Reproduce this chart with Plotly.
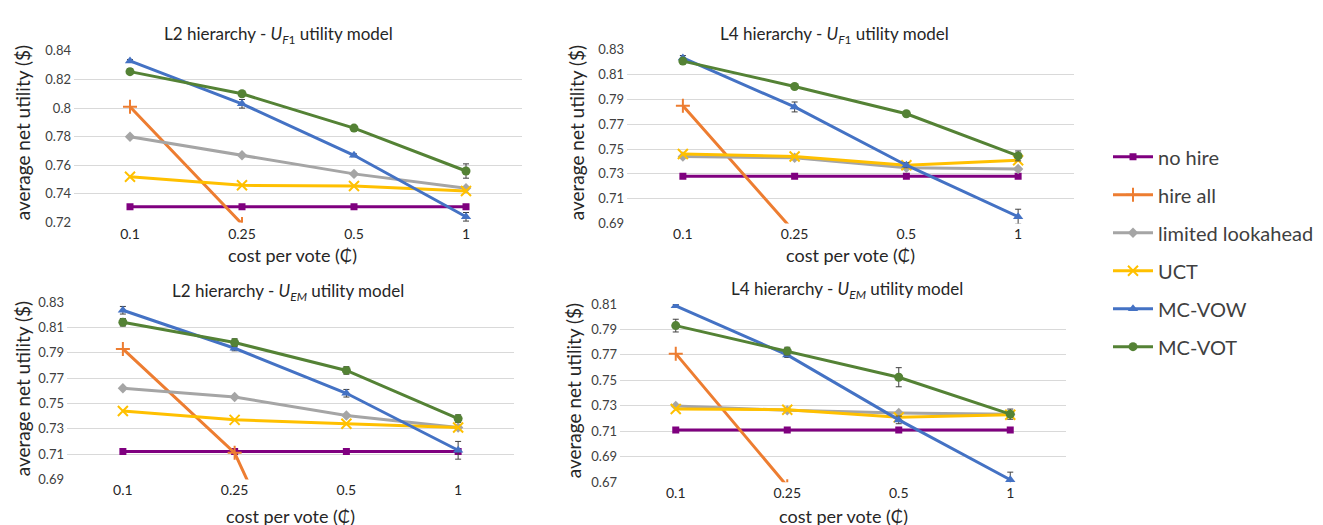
import plotly.graph_objects as go

W, H = 1323, 525

costs = ["0.1", "0.25", "0.5", "1"]
series_names = ["no hire", "hire all", "limited lookahead", "UCT", "MC-VOW", "MC-VOT"]

# L2 hierarchy - U_F1
l2_f1_no_hire = [0.731, 0.731, 0.731, 0.731]
l2_f1_hire_all = [0.801, 0.719, 0.60, 0.40]
l2_f1_limited = [0.780, 0.767, 0.754, 0.744]
l2_f1_uct = [0.752, 0.746, 0.7455, 0.742]
l2_f1_vow = [0.833, 0.803, 0.767, 0.724]
l2_f1_vow_err = [0.001, 0.003, 0.001, 0.003]
l2_f1_vot = [0.8255, 0.810, 0.786, 0.756]
l2_f1_vot_err = [0.002, 0.001, 0.001, 0.005]

# L4 hierarchy - U_F1
l4_f1_no_hire = [0.728, 0.728, 0.728, 0.728]
l4_f1_hire_all = [0.785, 0.683, 0.55, 0.35]
l4_f1_limited = [0.744, 0.743, 0.735, 0.734]
l4_f1_uct = [0.746, 0.744, 0.737, 0.741]
l4_f1_vow = [0.8235, 0.784, 0.737, 0.6955]
l4_f1_vow_err = [0.002, 0.004, 0.002, 0.006]
l4_f1_vot = [0.821, 0.8005, 0.7785, 0.7445]
l4_f1_vot_err = [0.001, 0.001, 0.001, 0.004]

# L2 hierarchy - U_EM
l2_em_no_hire = [0.712, 0.712, 0.712, 0.712]
l2_em_hire_all = [0.793, 0.711, 0.52, 0.30]
l2_em_limited = [0.762, 0.755, 0.7405, 0.731]
l2_em_uct = [0.744, 0.737, 0.734, 0.731]
l2_em_vow = [0.8235, 0.7935, 0.758, 0.713]
l2_em_vow_err = [0.003, 0.002, 0.003, 0.007]
l2_em_vot = [0.814, 0.798, 0.776, 0.738]
l2_em_vot_err = [0.003, 0.003, 0.003, 0.003]

# L4 hierarchy - U_EM
l4_em_no_hire = [0.711, 0.711, 0.711, 0.711]
l4_em_hire_all = [0.771, 0.667, 0.50, 0.30]
l4_em_limited = [0.730, 0.7265, 0.7245, 0.7235]
l4_em_uct = [0.7275, 0.727, 0.721, 0.723]
l4_em_vow = [0.8085, 0.770, 0.719, 0.672]
l4_em_vow_err = [0.001, 0.002, 0.003, 0.006]
l4_em_vot = [0.793, 0.773, 0.7525, 0.7235]
l4_em_vot_err = [0.005, 0.003, 0.0075, 0.004]

colors = ["#7F007F", "#ED7D31", "#A5A5A5", "#FFC000", "#4472C4", "#548235"]
symbols = ["square", "cross-thin", "diamond", "x-thin", "triangle-up", "circle"]
msizes = [7, 10, 8, 10, 9, 9]

panels = [
    dict(title="L2 hierarchy - <i>U</i><sub><i>F</i>1</sub> utility model",
         data=[l2_f1_no_hire, l2_f1_hire_all, l2_f1_limited, l2_f1_uct, l2_f1_vow, l2_f1_vot],
         errs={4: l2_f1_vow_err, 5: l2_f1_vot_err},
         yr=(0.72, 0.84), t0=0.0, px=(66, 514), py=(36, 213),
         tt=(270, 20), xt=(284, 247), yt=(14, 121)),
    dict(title="L4 hierarchy - <i>U</i><sub><i>F</i>1</sub> utility model",
         data=[l4_f1_no_hire, l4_f1_hire_all, l4_f1_limited, l4_f1_uct, l4_f1_vow, l4_f1_vot],
         errs={4: l4_f1_vow_err, 5: l4_f1_vot_err},
         yr=(0.69, 0.83), t0=0.01, px=(619, 1066), py=(35, 214),
         tt=(826, 20), xt=(842, 247), yt=(568, 121)),
    dict(title="L2 hierarchy - <i>U</i><sub><i>EM</i></sub> utility model",
         data=[l2_em_no_hire, l2_em_hire_all, l2_em_limited, l2_em_uct, l2_em_vow, l2_em_vot],
         errs={4: l2_em_vow_err, 5: l2_em_vot_err},
         yr=(0.69, 0.83), t0=0.01, px=(59, 506), py=(295, 478),
         tt=(280, 285), xt=(282, 516), yt=(14, 385)),
    dict(title="L4 hierarchy - <i>U</i><sub><i>EM</i></sub> utility model",
         data=[l4_em_no_hire, l4_em_hire_all, l4_em_limited, l4_em_uct, l4_em_vow, l4_em_vot],
         errs={4: l4_em_vow_err, 5: l4_em_vot_err},
         yr=(0.67, 0.81), t0=0.01, px=(612, 1058), py=(297, 481),
         tt=(839, 283), xt=(835, 516), yt=(565, 387)),
]

FONT = "Lato, 'Open Sans', sans-serif"
fig = go.Figure()
annotations = []
layout = {}

for i, p in enumerate(panels):
    k = "" if i == 0 else str(i + 1)
    xa, ya = "x" + k, "y" + k
    for j, name in enumerate(series_names):
        tr = dict(
            x=costs, y=p["data"][j], name=name, mode="lines+markers",
            xaxis=xa, yaxis=ya, legendgroup=name, showlegend=(i == 0),
            line=dict(color=colors[j], width=3),
            marker=dict(symbol=symbols[j], size=msizes[j], color=colors[j],
                        line=dict(color=colors[j], width=2 if "thin" in symbols[j] else 0)),
            cliponaxis=True,
        )
        if j in p["errs"]:
            tr["error_y"] = dict(type="data", array=p["errs"][j], visible=True,
                                 color="#404040", thickness=1, width=3)
        fig.add_trace(go.Scatter(**tr))
    layout["xaxis" + k] = dict(
        domain=[p["px"][0] / W, p["px"][1] / W], anchor=ya,
        type="category", categoryorder="array", categoryarray=costs,
        range=[-0.5, 3.5], showgrid=False, zeroline=False, showline=False,
        ticks="", tickfont=dict(family=FONT, size=14, color="#262626"), ticklabelstandoff=1,
    )
    layout["yaxis" + k] = dict(
        domain=[1 - p["py"][1] / H, 1 - p["py"][0] / H], anchor=xa,
        range=list(p["yr"]), dtick=0.02, tick0=p["t0"], showgrid=True, gridcolor="#D9D9D9",
        gridwidth=1, zeroline=False, showline=False, ticks="",
        tickfont=dict(family=FONT, size=13, color="#404040"), ticklabelstandoff=2,
    )
    annotations.append(dict(text=p["title"], x=p["tt"][0] / W, y=1 - p["tt"][1] / H,
                            xref="paper", yref="paper", showarrow=False,
                            xanchor="center", yanchor="middle",
                            font=dict(family=FONT, size=17, color="#262626")))
    annotations.append(dict(text="cost per vote (₵)", x=p["xt"][0] / W, y=1 - p["xt"][1] / H,
                            xref="paper", yref="paper", showarrow=False,
                            xanchor="center", yanchor="middle",
                            font=dict(family=FONT, size=18, color="#262626")))
    annotations.append(dict(text="average net utility ($)", x=p["yt"][0] / W, y=1 - p["yt"][1] / H,
                            xref="paper", yref="paper", showarrow=False, textangle=-90,
                            xanchor="center", yanchor="middle",
                            font=dict(family=FONT, size=19, color="#262626")))

fig.update_layout(
    width=W, height=H, margin=dict(l=0, r=0, t=0, b=0),
    paper_bgcolor="white", plot_bgcolor="white",
    font=dict(family=FONT),
    annotations=annotations,
    legend=dict(x=1100 / W, y=1 - 125 / H, xanchor="left", yanchor="top",
                font=dict(family=FONT, size=20, color="#404040"),
                tracegroupgap=9, itemwidth=40, bgcolor="rgba(0,0,0,0)"),
    **layout,
)

fig.write_html("out.html")
